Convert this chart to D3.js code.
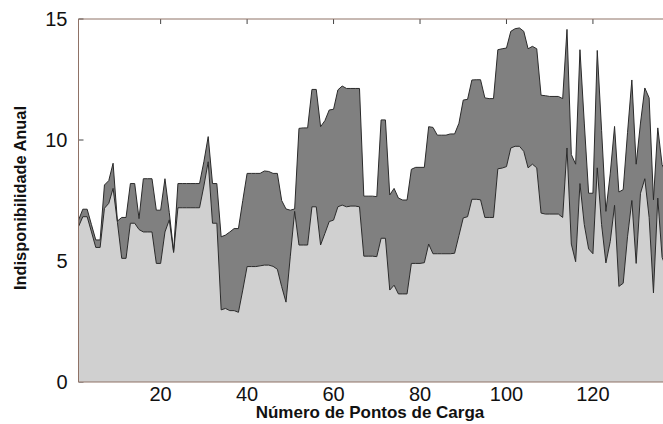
<!DOCTYPE html>
<html>
<head>
<meta charset="utf-8">
<script src="https://cdn.jsdelivr.net/npm/d3@7"></script>
<style>
  body { margin: 0; background: #fff; }
  svg { display: block; }
  .tick-label { font-family: Arial, "Liberation Sans", sans-serif; font-size: 20px; fill: #111; }
  .axis-title { font-family: Arial, "Liberation Sans", sans-serif; font-weight: bold; fill: #111; }
</style>
</head>
<body>
<div class="data"></div>
<script>
// lower series (light gray) and upper envelope (dark gray top), one value per load point
const lower = [
  6.42, 6.83, 6.83, 6.2, 5.56, 5.56, 7.18, 7.38, 8.0, 6.6,
  5.11, 5.11, 6.56, 6.56, 6.3, 6.2, 6.2, 6.2, 4.9, 4.9,
  6.2, 6.7, 5.35, 7.2, 7.2, 7.2, 7.2, 7.2, 7.2, 8.1,
  9.1, 6.56, 6.56, 2.98, 3.04, 2.95, 2.95, 2.88, 3.8, 4.77,
  4.77, 4.77, 4.8, 4.83, 4.83, 4.78, 4.66, 3.94, 3.3, 5.2,
  7.05, 5.66, 5.66, 5.66, 7.24, 7.24, 5.66, 6.14, 6.63, 6.69,
  7.24, 7.31, 7.24, 7.27, 7.27, 7.24, 5.2, 5.2, 5.2, 5.18,
  5.94, 5.94, 3.8, 4.0, 3.64, 3.64, 3.64, 4.9, 4.9, 4.9,
  4.93, 5.7, 5.3, 5.3, 5.3, 5.3, 5.3, 5.32, 6.05, 6.78,
  6.83, 7.55, 7.55, 7.53, 6.8, 6.8, 6.8, 8.81, 8.84, 8.9,
  9.67, 9.74, 9.74, 9.53, 8.85, 9.0, 8.85, 6.98, 6.94, 6.94,
  6.94, 6.94, 6.8, 9.67, 5.7, 4.97, 8.2, 6.5, 5.5, 5.3,
  8.85, 6.5, 4.92, 5.8, 7.3, 3.95, 4.08, 6.0, 7.5, 4.9,
  7.8, 8.4, 6.8, 3.68, 7.6, 5.15, 4.7
]
const upper = [
  6.69, 7.14, 7.14, 6.5, 5.87, 5.87, 8.14, 8.32, 9.04, 6.65,
  6.8, 6.8, 8.2, 8.2, 6.75, 8.4, 8.4, 8.4, 7.1, 7.1,
  8.4, 7.0, 5.4, 8.2, 8.2, 8.2, 8.2, 8.2, 8.2, 9.1,
  10.14, 8.2, 8.2, 6.0, 6.07, 6.2, 6.34, 6.34, 7.5, 8.62,
  8.62, 8.62, 8.62, 8.72, 8.7, 8.62, 8.62, 7.5, 7.15, 7.1,
  7.15, 10.48, 10.5, 10.5, 12.09, 12.09, 10.55, 10.8, 11.24, 11.27,
  12.07, 12.23, 12.13, 12.13, 12.13, 12.13, 7.68, 7.68, 7.68, 7.66,
  10.83, 10.83, 7.73, 8.0, 7.6, 7.52, 7.52, 8.79, 8.87, 8.87,
  8.87, 10.55, 10.52, 10.2, 10.2, 10.2, 10.25, 10.25, 10.69, 11.65,
  11.68, 12.48, 12.49, 12.49, 11.74, 11.71, 11.71, 13.73, 13.77, 13.8,
  14.49, 14.6, 14.63, 14.49, 13.77, 13.87, 13.77, 11.85, 11.83, 11.8,
  11.8, 11.8, 11.71, 14.57, 9.4, 9.0, 13.73, 10.7, 7.8, 7.8,
  13.7, 10.4, 7.05, 8.6, 10.56, 7.85, 7.95, 10.3, 12.48, 9.0,
  10.7, 12.15, 11.74, 7.53, 10.5, 8.98, 8.6
]
const xTicks = [20, 40, 60, 80, 100, 120]
const yTicks = [0, 5, 10, 15]

const points = d3.range(1, lower.length + 1)
const data = points.map(function(n, i) { return {n: n, lo: lower[i], hi: upper[i]} })

const width = 663, height = 424
const plot = {left: 78.5, top: 19, bottom: 382}

const x = d3.scaleLinear()
    .domain([1, 137])
    .range([plot.left, plot.left + 136 * 4.323])

const y = d3.scaleLinear()
    .domain([0, 15])
    .range([plot.bottom, plot.top])

const svg = d3.select('.data').append("svg")
    .attr("width", width)
    .attr("height", height)

const frameColor = "#8f7266"

// inward ticks sit under the areas, as in the original
const ticks = svg.append("g")
ticks.selectAll(".xt")
    .data(xTicks)
  .enter().append("line")
    .attr("x1", function(d) { return x(d) })
    .attr("x2", function(d) { return x(d) })
    .attr("y1", plot.top)
    .attr("y2", plot.top + 5)
    .attr("stroke", "#444")
ticks.selectAll(".yt")
    .data(yTicks)
  .enter().append("line")
    .attr("x1", plot.left)
    .attr("x2", plot.left + 5)
    .attr("y1", function(d) { return y(d) })
    .attr("y2", function(d) { return y(d) })
    .attr("stroke", "#444")

const areaLow = d3.area()
    .x(function(d) { return x(d.n) })
    .y0(y(0))
    .y1(function(d) { return y(d.lo) })

const areaHigh = d3.area()
    .x(function(d) { return x(d.n) })
    .y0(function(d) { return y(d.lo) })
    .y1(function(d) { return y(d.hi) })

svg.append("path")
    .datum(data)
    .attr("d", areaLow)
    .attr("fill", "#d0d0d0")

svg.append("path")
    .datum(data)
    .attr("d", areaHigh)
    .attr("fill", "#808080")

const lineLow = d3.line()
    .x(function(d) { return x(d.n) })
    .y(function(d) { return y(d.lo) })
const lineHigh = d3.line()
    .x(function(d) { return x(d.n) })
    .y(function(d) { return y(d.hi) })

svg.append("path").datum(data).attr("d", lineLow)
    .attr("fill", "none").attr("stroke", "#2a2a2a").attr("stroke-width", 1)
svg.append("path").datum(data).attr("d", lineHigh)
    .attr("fill", "none").attr("stroke", "#2a2a2a").attr("stroke-width", 1)

// box
svg.append("line")
    .attr("x1", plot.left).attr("x2", width)
    .attr("y1", plot.top).attr("y2", plot.top)
    .attr("stroke", frameColor)
svg.append("line")
    .attr("x1", plot.left).attr("x2", width)
    .attr("y1", plot.bottom).attr("y2", plot.bottom)
    .attr("stroke", frameColor)
svg.append("line")
    .attr("x1", plot.left).attr("x2", plot.left)
    .attr("y1", plot.top).attr("y2", plot.bottom)
    .attr("stroke", frameColor)

svg.selectAll(".ylab")
    .data(yTicks)
  .enter().append("text")
    .attr("class", "tick-label")
    .attr("x", plot.left - 11)
    .attr("y", function(d) { return y(d) })
    .attr("dy", ".36em")
    .style("text-anchor", "end")
    .text(function(d) { return d })

svg.selectAll(".xlab")
    .data(xTicks)
  .enter().append("text")
    .attr("class", "tick-label")
    .attr("x", function(d) { return x(d) })
    .attr("y", 401)
    .style("text-anchor", "middle")
    .text(function(d) { return d })

svg.append("text")
    .attr("class", "axis-title")
    .attr("x", 370)
    .attr("y", 418)
    .style("font-size", "17px")
    .style("text-anchor", "middle")
    .text("Número de Pontos de Carga")

svg.append("text")
    .attr("class", "axis-title")
    .attr("transform", "translate(26,198) rotate(-90)")
    .attr("textLength", 184)
    .attr("lengthAdjust", "spacingAndGlyphs")
    .style("font-size", "16px")
    .style("text-anchor", "middle")
    .text("Indisponibilidade Anual")
</script>
</body>
</html>
